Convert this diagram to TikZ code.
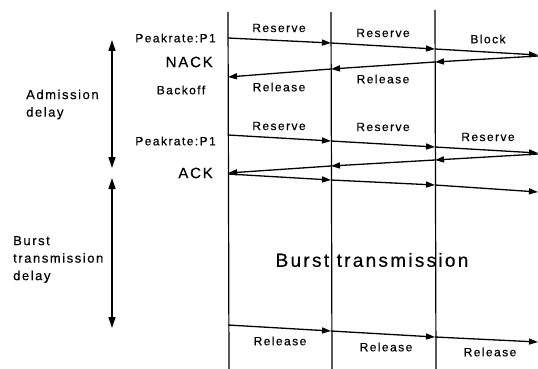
\documentclass[tikz,border=0pt]{standalone}
\usepackage{fontspec}
\setmainfont{Liberation Sans}[LetterSpace=12,FakeBold=0.4]
\usetikzlibrary{arrows.meta}
\begin{document}
\begin{tikzpicture}[x=1pt,y=-1pt,
  msg/.style={line width=1.3pt,-{Triangle[length=9pt,width=6pt]}},
  span/.style={line width=1.4pt,{Triangle[length=11pt,width=7pt]}-{Triangle[length=11pt,width=7pt]}},
  lane/.style={line width=1.2pt},
  small/.style={font=\fontsize{12}{14}\selectfont,inner sep=0pt},
  big/.style={font=\fontsize{15}{17}\selectfont,inner sep=0pt},
  side/.style={font=\fontsize{13}{17.5}\selectfont,inner sep=0pt,align=left,anchor=west}]
\useasboundingbox (0,0) rectangle (538,369);
% lanes
\coordinate (t1) at (228,12); \coordinate (b1) at (229,369);
\coordinate (t2) at (331,12); \coordinate (b2) at (332,369);
\coordinate (t3) at (435,10); \coordinate (b3) at (436,369);
\draw[lane] (t1) -- (b1);
\draw[lane] (t2) -- (b2);
\draw[lane] (t3) -- (b3);
% first reserve
\coordinate (a0) at (228,38); \coordinate (a1) at (331,43);
\coordinate (a2) at (435,49); \coordinate (a3) at (538,55);
\draw[msg] (a0) -- (a1); \draw[msg] (a1) -- (a2); \draw[msg] (a2) -- (a3);
% release back
\coordinate (r3) at (538,56); \coordinate (r2) at (435,62);
\coordinate (r1) at (331,69); \coordinate (r0) at (228,77);
\draw[msg] (r3) -- (r2); \draw[msg] (r2) -- (r1); \draw[msg] (r1) -- (r0);
% second reserve
\coordinate (c0) at (228,135); \coordinate (c1) at (331,141);
\coordinate (c2) at (435,147); \coordinate (c3) at (538,153);
\draw[msg] (c0) -- (c1); \draw[msg] (c1) -- (c2); \draw[msg] (c2) -- (c3);
% ack back
\coordinate (k3) at (538,154); \coordinate (k2) at (435,160);
\coordinate (k1) at (331,166); \coordinate (k0) at (228,173);
\draw[msg] (k3) -- (k2); \draw[msg] (k2) -- (k1); \draw[msg] (k1) -- (k0);
% data forward
\coordinate (d0) at (228,174); \coordinate (d1) at (331,180);
\coordinate (d2) at (435,185); \coordinate (d3) at (538,192);
\draw[msg] (d0) -- (d1); \draw[msg] (d1) -- (d2); \draw[msg] (d2) -- (d3);
% release bottom
\coordinate (e0) at (228,325); \coordinate (e1) at (331,331);
\coordinate (e2) at (435,337); \coordinate (e3) at (538,342);
\draw[msg] (e0) -- (e1); \draw[msg] (e1) -- (e2); \draw[msg] (e2) -- (e3);
% labels on messages
\node[small] (l1) at (279,28) {Reserve};
\node[small] (l2) at (383,33) {Reserve};
\node[small] (l3) at (488,39) {Block};
\node[small] (l4) at (279,87) {Release};
\node[small] (l5) at (383,79) {Release};
\node[small] (l6) at (279,126) {Reserve};
\node[small] (l7) at (383,127) {Reserve};
\node[small] (l8) at (488,137) {Reserve};
\node[small] (l9) at (280,341) {Release};
\node[small] (l10) at (386,347) {Release};
\node[small] (l11) at (490,352) {Release};
% left of first lane
\node[small,anchor=east] (p1) at (216,38) {Peakrate:P1};
\node[big,anchor=east] (nack) at (213,62) {NACK};
\node[small] (boff) at (181,90) {Backoff};
\node[small,anchor=east] (p2) at (216,141) {Peakrate:P1};
\node[big,anchor=east] (ack) at (213,173) {ACK};
% big label
\node[font=\fontsize{19}{21}\selectfont,inner sep=0pt] (bt) at (372,260) {Burst transmission};
% delays
\coordinate (s1) at (112,40); \coordinate (s2) at (112,168);
\coordinate (s3) at (112,178); \coordinate (s4) at (112,328);
\draw[span] (s1) -- (s2);
\draw[span] (s3) -- (s4);
\node[side] (ad) at (26,104.5) {Admission\\delay};
\node[side] (bd) at (13,259.5) {Burst\\transmission\\delay};
\end{tikzpicture}
\end{document}
